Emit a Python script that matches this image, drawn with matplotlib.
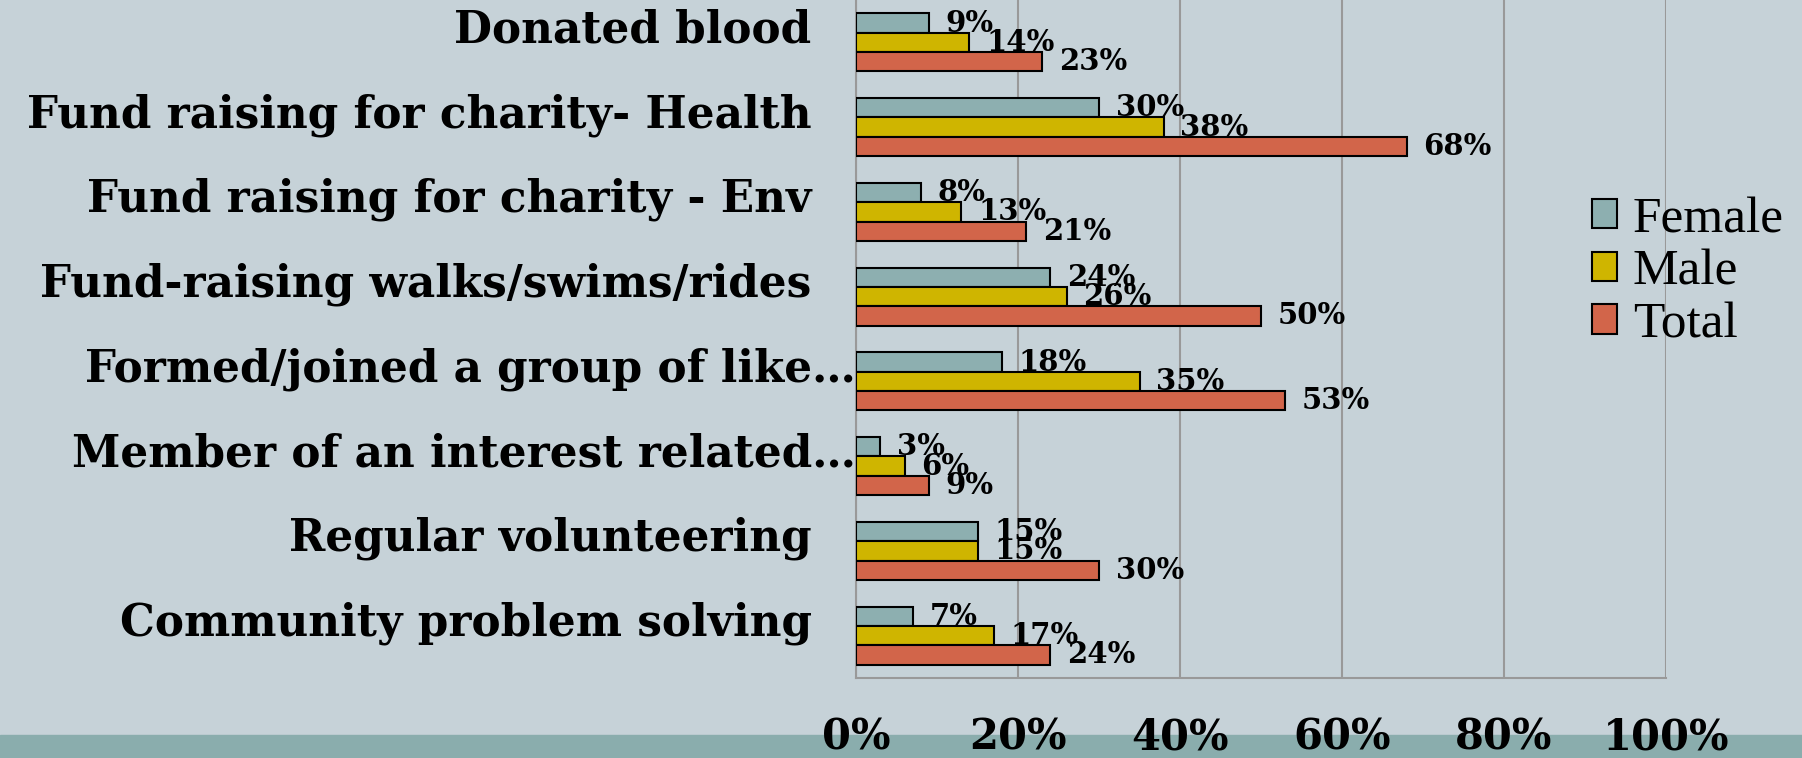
import matplotlib
matplotlib.use("Agg")
import matplotlib.pyplot as plt
import numpy as np
from matplotlib.patches import Rectangle
from matplotlib.ticker import PercentFormatter

categories = ["Donated blood", "Fund raising for charity- Health", "Fund raising for charity - Env",
              "Fund-raising walks/swims/rides", "Formed/joined a group of like\u2026",
              "Member of an interest related\u2026", "Regular volunteering", "Community problem solving"]
female = [9, 30, 8, 24, 18, 3, 15, 7]
male = [14, 38, 13, 26, 35, 6, 15, 17]
total = [23, 68, 21, 50, 53, 9, 30, 24]
series_names = ["Female", "Male", "Total"]
xticks = [0, 20, 40, 60, 80, 100]

BG = "#C6D2D8"
BAND = "#8AADAD"
colors = ["#8DAFB0", "#CFB500", "#D2654A"]

fig = plt.figure(figsize=(18.02, 7.58), dpi=100, facecolor=BG)
fig.patches.append(Rectangle((0, 0), 1, 23/758, transform=fig.transFigure, color=BAND, zorder=-5))
ax = fig.add_axes([856/1802, 80/758, 810/1802, 678/758])
ax.set_facecolor(BG)

y = np.arange(len(categories))
h = 0.228
for k, (vals, c, name) in enumerate(zip([female, male, total], colors, series_names)):
    bars = ax.barh(y + (k - 1) * h, vals, height=h, color=c, edgecolor="black", linewidth=1.5,
                   label=name, zorder=3)
    ax.bar_label(bars, labels=[f"{v}%" for v in vals], padding=12,
                 fontfamily="DejaVu Serif", fontweight="heavy", fontsize=21, zorder=4)

ax.set_xlim(0, 100)
ax.set_ylim(len(categories) - 0.5, -0.5)
ax.set_xticks(xticks)
ax.xaxis.set_major_formatter(PercentFormatter(decimals=0))
ax.set_yticks(y)
ax.set_yticklabels(categories)
for lab in ax.get_yticklabels():
    lab.set_fontfamily("DejaVu Serif")
    lab.set_fontweight("heavy")
    lab.set_fontsize(31.5)
    lab.set_verticalalignment("baseline")
for lab in ax.get_xticklabels():
    lab.set_fontfamily("DejaVu Serif")
    lab.set_fontweight("heavy")
    lab.set_fontsize(30)
ax.tick_params(axis="x", length=0, pad=28)
ax.tick_params(axis="y", length=0)
for i, t in enumerate(ax.yaxis.get_major_ticks()):
    t.set_pad(0 if categories[i].endswith("\u2026") else 32)

ax.grid(axis="x", color="#999999", linewidth=1.5, zorder=0)
for s in ["top", "right"]:
    ax.spines[s].set_visible(False)
for s in ["left", "bottom"]:
    ax.spines[s].set_color("#999999")
    ax.spines[s].set_linewidth(1.5)

leg = ax.legend(loc="upper left", bbox_to_anchor=(1571/1802, 582/758), bbox_transform=fig.transFigure,
                frameon=False, prop={"family": "Liberation Serif", "size": 37},
                handlelength=0.5, handleheight=0.5, handletextpad=0.3, labelspacing=0.12,
                borderaxespad=0)

fig.savefig("out.png", dpi=100, facecolor=BG)
